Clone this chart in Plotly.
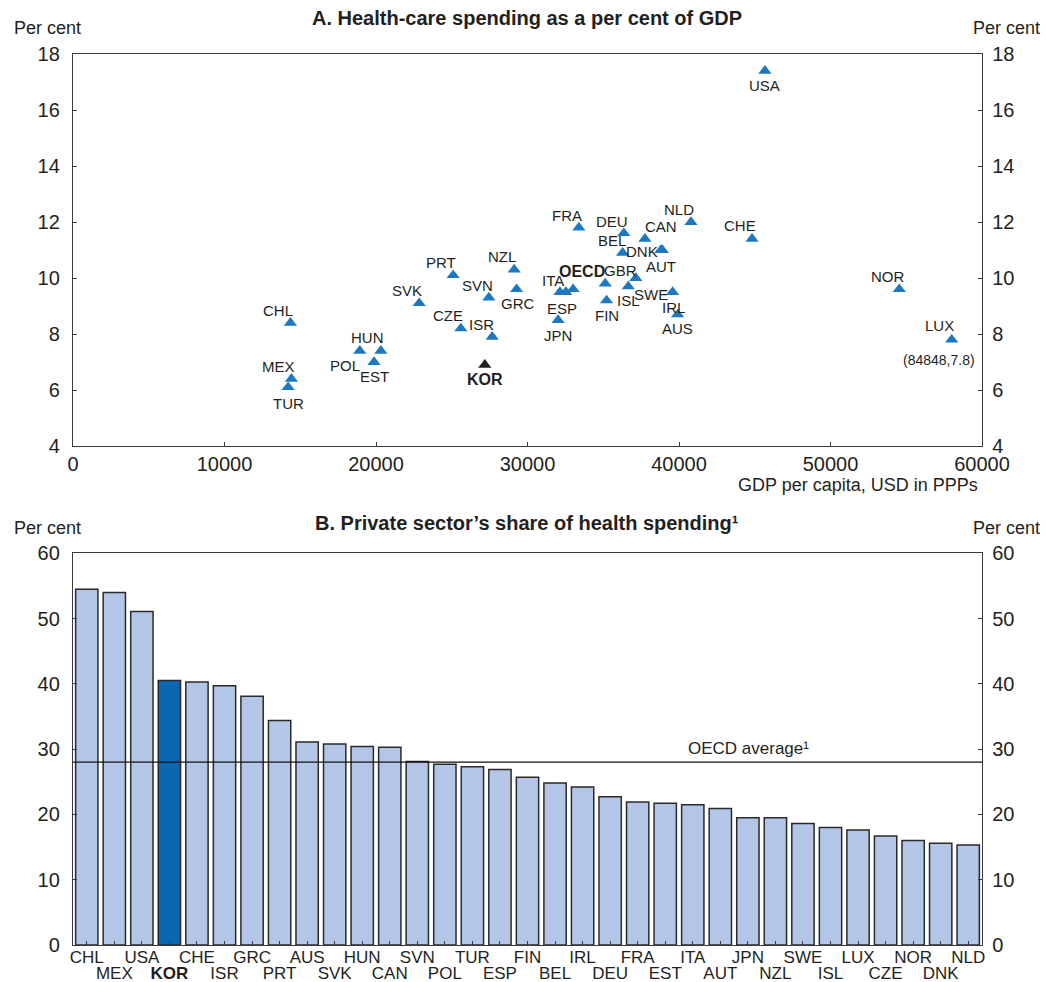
import plotly.graph_objects as go

# ---------------- Panel A data ----------------
countries_a = ["USA", "NLD", "CHE", "CAN", "DEU", "FRA", "BEL", "DNK", "AUT", "GBR",
               "SWE", "ISL", "FIN", "IRL", "AUS", "OECD", "ITA", "ESP", "JPN", "NOR",
               "LUX", "CHL", "HUN", "POL", "EST", "MEX", "TUR", "KOR", "SVK", "PRT",
               "NZL", "GRC", "SVN", "CZE", "ISR"]
gdp_per_capita = [45670, 40790, 44820, 37750, 36360, 33390, 36280, 38800, 38900, 35130,
                  37150, 36650, 35220, 39580, 39910, 33010, 32140, 32530, 32020, 54540,
                  58000, 14350, 20320, 18930, 19870, 14420, 14200, 27180, 22850, 25090,
                  29120, 29280, 27450, 25600, 27670]
health_spending = [17.4, 12.0, 11.4, 11.4, 11.6, 11.8, 10.9, 11.0, 11.0, 9.8,
                   10.0, 9.7, 9.2, 9.5, 8.7, 9.6, 9.5, 9.5, 8.5, 9.6,
                   7.8, 8.4, 7.4, 7.4, 7.0, 6.4, 6.1, 6.9, 9.1, 10.1,
                   10.3, 9.6, 9.3, 8.2, 7.9]
lux_note = "(84848,7.8)"

# ---------------- Panel B data ----------------
countries_b = ["CHL", "MEX", "USA", "KOR", "CHE", "ISR", "GRC", "PRT", "AUS", "SVK",
               "HUN", "CAN", "SVN", "POL", "TUR", "ESP", "FIN", "BEL", "IRL", "DEU",
               "FRA", "EST", "ITA", "AUT", "JPN", "NZL", "SWE", "ISL", "LUX", "CZE",
               "NOR", "DNK", "NLD"]
private_share = [54.5, 54.0, 51.1, 40.5, 40.3, 39.7, 38.1, 34.4, 31.1, 30.8,
                 30.4, 30.3, 28.1, 27.7, 27.3, 26.9, 25.7, 24.8, 24.2, 22.7,
                 21.9, 21.7, 21.5, 20.9, 19.5, 19.5, 18.6, 18.0, 17.6, 16.7,
                 16.0, 15.6, 15.3]
oecd_average = 28.0

# ---------------- styling ----------------
FONT = "Liberation Sans, Arial, sans-serif"
TXT = "#231f20"
AXC = "#3a3a3a"
BLUE = "#1b78c2"
BAR = "#b4c6e7"
KORC = "#0a67b1"

# label offsets in pixels (dx right, dy up)
label_offsets = {
    "USA": (0, -15), "NLD": (-12, 13), "CHE": (-12, 13), "CAN": (16, 12),
    "DEU": (-12, 12), "FRA": (-12, 12), "BEL": (-11, 12), "DNK": (-19, -1),
    "AUT": (-1, -16), "GBR": (15, 13), "SWE": (15, -16), "ISL": (0, -14),
    "FIN": (0, -15), "IRL": (1, -15), "AUS": (0, -14), "OECD": (9, 18),
    "ITA": (-7, 12), "ESP": (-4, -16), "JPN": (0, -15), "NOR": (-11, 13),
    "LUX": (-12, 14), "CHL": (-12, 12), "HUN": (-13, 13), "POL": (-15, -15),
    "EST": (0, -14), "MEX": (-13, 12), "TUR": (0, -16), "KOR": (0, -15),
    "SVK": (-12, 13), "PRT": (-12, 13), "NZL": (-12, 13), "GRC": (1, -14),
    "SVN": (-11, 12), "CZE": (-13, 13), "ISR": (-11, 12),
}

fig = go.Figure()

marker_colors = ["#222222" if c == "KOR" else BLUE for c in countries_a]
fig.add_trace(go.Scatter(
    x=gdp_per_capita, y=health_spending, mode="markers",
    marker=dict(symbol="triangle-up", size=11.5, color=marker_colors, line=dict(width=0)),
    xaxis="x", yaxis="y", showlegend=False, hoverinfo="text", text=countries_a,
))
# invisible trace for right axis of panel A
fig.add_trace(go.Scatter(
    x=gdp_per_capita, y=health_spending, mode="markers", marker=dict(opacity=0),
    xaxis="x", yaxis="y3", showlegend=False, hoverinfo="skip",
))

bar_colors = [KORC if c == "KOR" else BAR for c in countries_b]
fig.add_trace(go.Bar(
    x=countries_b, y=private_share, marker=dict(color=bar_colors, line=dict(color="#2a2a2a", width=1.5)),
    xaxis="x2", yaxis="y2", showlegend=False,
))
fig.add_trace(go.Scatter(
    x=countries_b, y=private_share, mode="markers", marker=dict(opacity=0),
    xaxis="x4", yaxis="y2", showlegend=False, hoverinfo="skip",
))
fig.add_trace(go.Scatter(
    x=countries_b, y=private_share, mode="markers", marker=dict(opacity=0),
    xaxis="x2", yaxis="y4", showlegend=False, hoverinfo="skip",
))

annotations = []
for c, xv, yv in zip(countries_a, gdp_per_capita, health_spending):
    dx, dy = label_offsets[c]
    bold = c in ("KOR", "OECD")
    annotations.append(dict(
        x=xv, y=yv, xref="x", yref="y", text=f"<b>{c}</b>" if bold else c,
        showarrow=False, xshift=dx, yshift=dy,
        font=dict(family=FONT, size=16 if bold else 15, color=TXT),
    ))
lux_i = countries_a.index("LUX")
annotations.append(dict(
    x=gdp_per_capita[lux_i], y=health_spending[lux_i], xref="x", yref="y", text=lux_note,
    showarrow=False, xshift=-13, yshift=-20, font=dict(family=FONT, size=14, color=TXT),
))


def paper_text(text, x, y, size, xanchor="center"):
    return dict(text=text, x=x, y=y, xref="paper", yref="paper", xanchor=xanchor, yanchor="middle",
                showarrow=False, font=dict(family=FONT, size=size, color=TXT))


# titles and unit labels
annotations += [
    paper_text("<b>A. Health-care spending as a per cent of GDP</b>", 0.4995, 1.0404, 20),
    paper_text("Per cent", -0.067, 1.0292, 18, "left"),
    paper_text("Per cent", 1.066, 1.0292, 18, "right"),
    paper_text("GDP per capita, USD in PPPs", 0.9978, 0.5163, 18, "right"),
    paper_text("<b>B. Private sector\u2019s share of health spending\u00b9</b>", 0.4995, 0.4736, 20),
    paper_text("Per cent", -0.067, 0.468, 18, "left"),
    paper_text("Per cent", 1.066, 0.468, 18, "right"),
    dict(text="OECD average\u00b9", x=0.812, y=oecd_average, xref="paper", yref="y2", yshift=14,
         showarrow=False, font=dict(family=FONT, size=17, color=TXT)),
]

shapes = [dict(type="line", xref="x2 domain", x0=0, x1=1, yref="y2", y0=oecd_average, y1=oecd_average,
               line=dict(color="#111111", width=1.2))]

tick_font = dict(family=FONT, size=20, color=TXT)
cat_font = dict(family=FONT, size=17, color=TXT)
common = dict(showline=True, linecolor=AXC, linewidth=1.3, ticks="inside", ticklen=4,
              tickcolor=AXC, showgrid=False, zeroline=False, automargin=False)

even_cats = countries_b[0::2]
odd_cats = countries_b[1::2]
odd_text = [f"<b>{c}</b>" if c == "KOR" else c for c in odd_cats]

fig.update_layout(
    width=1046, height=982, autosize=False,
    margin=dict(l=73, r=64, t=54, b=37),
    paper_bgcolor="white", plot_bgcolor="white",
    font=dict(family=FONT, color=TXT),
    bargap=0.19,
    xaxis=dict(domain=[0, 1], anchor="y", range=[0, 60000], dtick=10000, tickformat="d",
               mirror=True, tickfont=tick_font, **common),
    yaxis=dict(domain=[0.56, 1], anchor="x", range=[4, 18], dtick=2, tickfont=tick_font,
               ticklabelstandoff=8, **common),
    yaxis3=dict(overlaying="y", side="right", anchor="x", range=[4, 18], dtick=2,
                tickfont=tick_font, ticklabelstandoff=5, **common),
    xaxis2=dict(domain=[0, 1], anchor="y2", type="category", categoryorder="array",
                categoryarray=countries_b, range=[-0.5, 32.5], tickvals=even_cats, ticktext=even_cats,
                mirror=True, tickfont=cat_font, ticklabelstandoff=-4, **common),
    xaxis4=dict(overlaying="x2", anchor="y2", side="bottom", type="category", categoryorder="array",
                categoryarray=countries_b, range=[-0.5, 32.5], tickvals=odd_cats, ticktext=odd_text,
                ticklabelstandoff=16, tickfont=cat_font,
                **{**common, "showline": False}),
    yaxis2=dict(domain=[0, 0.4396], anchor="x2", range=[0, 60], dtick=10, tickfont=tick_font,
                ticklabelstandoff=8, **common),
    yaxis4=dict(overlaying="y2", side="right", anchor="x2", range=[0, 60], dtick=10,
                tickfont=tick_font, ticklabelstandoff=5, **common),
    annotations=annotations,
    shapes=shapes,
)

fig.write_html(
    "out.html",
    config={"displayModeBar": False},
    post_script="document.body.style.margin='0px';"
                "document.documentElement.style.overflow='hidden';"
                "document.body.style.overflow='hidden';",
)
